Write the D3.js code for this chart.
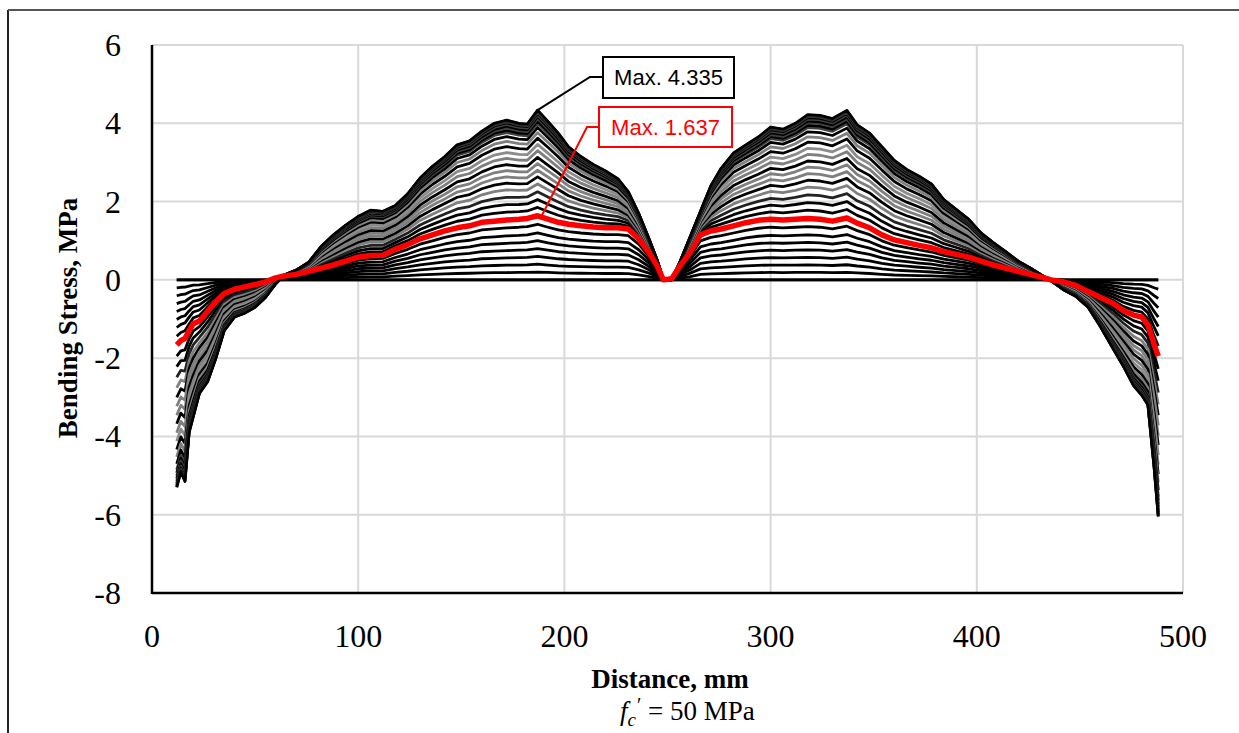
<!DOCTYPE html>
<html lang="en">
<head>
<meta charset="UTF-8">
<title>Bending stress - fc' = 50 MPa</title>
<script src="https://d3js.org/d3.v7.min.js"></script>
<style>
  body { margin: 0; background: #fff; }
  text { font-family: "Liberation Serif", "Times New Roman", serif; }
  .grid line { stroke: #d9d9d9; stroke-width: 2; }
  .tick-label { font-size: 32px; fill: #000; }
  .axis-title { font-size: 27px; font-weight: bold; fill: #000; }
  .note { font-family: "Liberation Sans", Arial, sans-serif; font-size: 22px; }
</style>
</head>
<body>
<script>
// distance along the slab, mm
var distance = [12, 14, 16, 18, 20, 23, 27, 31, 35, 40, 45, 50, 55, 60, 64, 70, 76, 82, 88, 94,
  100, 106, 112, 118, 124, 130, 136, 142, 148, 154, 160, 166, 172, 178, 182, 187, 192, 197, 202, 208,
  214, 220, 226, 231, 236, 241, 245, 248, 252, 256, 261, 266, 271, 276, 282, 288, 294, 300, 306, 312,
  318, 324, 330, 337, 342, 348, 354, 360, 366, 372, 378, 384, 390, 396, 402, 408, 414, 420, 426, 432,
  436, 442, 448, 454, 460, 466, 471, 476, 480, 483, 486, 488];

// last load step (Max. 4.335), MPa
var envelope = [-5.3, -4.9, -5.15, -3.9, -3.5, -2.9, -2.6, -2.0, -1.3, -0.95, -0.85, -0.7, -0.45, -0.1, 0.12, 0.25, 0.45, 0.85, 1.15, 1.4,
  1.62, 1.78, 1.75, 1.9, 2.2, 2.6, 2.9, 3.15, 3.45, 3.55, 3.8, 4.0, 4.08, 4.0, 3.98, 4.335, 4.05, 3.75, 3.4, 3.15,
  2.95, 2.78, 2.58, 2.25, 1.7, 1.05, 0.5, 0.0, 0.0, 0.45, 1.1, 1.75, 2.4, 2.85, 3.24, 3.45, 3.65, 3.9, 3.85, 4.0,
  4.22, 4.2, 4.12, 4.33, 3.96, 3.75, 3.4, 3.05, 2.82, 2.65, 2.45, 2.05, 1.8, 1.55, 1.2, 0.95, 0.72, 0.48, 0.3, 0.1,
  -0.02, -0.25, -0.42, -0.7, -1.2, -1.75, -2.2, -2.7, -2.95, -3.2, -4.8, -6.05];

// highlighted load step (Max. 1.637), MPa
var redStep = [-1.66, -1.55, -1.5, -1.3, -1.12, -1.05, -0.8, -0.55, -0.35, -0.24, -0.18, -0.12, -0.05, 0.05, 0.1, 0.14, 0.22, 0.3, 0.38, 0.48,
  0.58, 0.62, 0.63, 0.78, 0.9, 1.05, 1.15, 1.25, 1.33, 1.38, 1.47, 1.5, 1.53, 1.55, 1.57, 1.637, 1.55, 1.47, 1.42, 1.38,
  1.35, 1.33, 1.33, 1.3, 1.05, 0.7, 0.35, 0.0, 0.03, 0.35, 0.7, 1.15, 1.25, 1.3, 1.38, 1.46, 1.52, 1.55, 1.53, 1.55,
  1.57, 1.55, 1.5, 1.58, 1.45, 1.33, 1.15, 1.02, 0.95, 0.88, 0.82, 0.72, 0.65, 0.58, 0.48, 0.38, 0.3, 0.22, 0.14, 0.06,
  0.0, -0.05, -0.14, -0.3, -0.45, -0.6, -0.78, -0.9, -0.95, -1.15, -1.65, -1.95];

// peak stress of every load step, read at the left peak, MPa
var stepMax = [0, 0, 0.2, 0.4, 0.6, 0.8, 1.0, 1.2, 1.42, 1.85, 2.05, 2.25, 2.45, 2.63, 2.8, 2.97, 3.13, 3.3,
  3.46, 3.62, 3.76, 3.89, 4.0, 4.06, 4.12, 4.17, 4.22, 4.26, 4.29, 4.31, 4.325, 4.335];
var stepColor = ["#000", "#000", "#000", "#000", "#000", "#000", "#000", "#000", "#000", "#000", "#000", "#222",
  "#7f7f7f", "#000", "#7f7f7f", "#7f7f7f", "#000", "#7f7f7f", "#8c8c8c", "#000", "#7f7f7f", "#000",
  "#404040", "#000", "#404040", "#000", "#404040", "#000", "#404040", "#222", "#404040", "#000"];

var xTicks = [0, 100, 200, 300, 400, 500];
var yTicks = [-8, -6, -4, -2, 0, 2, 4, 6];

var W = 1239, H = 733;
var plotL = 152, plotR = 1183, plotT = 45, plotB = 593;

var svg = d3.select('body').append('svg')
  .attr('width', W).attr('height', H);

// outer frame (left and top edges)
svg.append('line').attr('x1', 8).attr('y1', 10).attr('x2', 8).attr('y2', H)
  .attr('stroke', '#222').attr('stroke-width', 2);
svg.append('line').attr('x1', 8).attr('y1', 10).attr('x2', W).attr('y2', 10)
  .attr('stroke', '#555').attr('stroke-width', 2);

var x = d3.scaleLinear().domain([0, 500]).range([plotL, plotR]);
var y = d3.scaleLinear().domain([-8, 6]).range([plotB, plotT]);

// grid
var grid = svg.append('g').attr('class', 'grid');
grid.selectAll('.gx').data(xTicks.slice(1)).enter().append('line')
  .attr('x1', function (d) { return x(d); }).attr('x2', function (d) { return x(d); })
  .attr('y1', plotT).attr('y2', plotB);
grid.selectAll('.gy').data(yTicks.slice(1)).enter().append('line')
  .attr('x1', plotL).attr('x2', plotR)
  .attr('y1', function (d) { return y(d); }).attr('y2', function (d) { return y(d); });

// axes lines
svg.append('line').attr('x1', plotL).attr('x2', plotL).attr('y1', plotT).attr('y2', plotB + 1)
  .attr('stroke', '#000').attr('stroke-width', 2.5);
svg.append('line').attr('x1', plotL).attr('x2', plotR).attr('y1', plotB).attr('y2', plotB)
  .attr('stroke', '#000').attr('stroke-width', 2.5);

// tick labels
svg.selectAll('.yl').data(yTicks).enter().append('text')
  .attr('class', 'tick-label')
  .attr('x', 121).attr('y', function (d) { return y(d) + 11; })
  .attr('text-anchor', 'end')
  .text(function (d) { return d; });
svg.selectAll('.xl').data(xTicks).enter().append('text')
  .attr('class', 'tick-label')
  .attr('x', function (d) { return x(d); }).attr('y', 647)
  .attr('text-anchor', 'middle')
  .text(function (d) { return d; });

// load-step curves
var line = d3.line()
  .x(function (d) { return x(d[0]); })
  .y(function (d) { return y(d[1]); });

var redMax = 1.637, envMax = 4.335;
function stepCurve(k) {
  return distance.map(function (xd, i) {
    var v;
    if (k <= redMax) v = redStep[i] * k / redMax;
    else {
      var t = (k - redMax) / (envMax - redMax);
      v = redStep[i] + t * (envelope[i] - redStep[i]);
    }
    return [xd, v];
  });
}

var curves = svg.append('g').attr('fill', 'none')
  .attr('stroke-linejoin', 'round').attr('stroke-linecap', 'butt');
curves.selectAll('path.step').data(stepMax).enter().append('path')
  .attr('class', 'step')
  .attr('d', function (d) { return line(stepCurve(d)); })
  .attr('stroke', function (d, i) { return stepColor[i]; })
  .attr('stroke-width', 2.8);

curves.append('path')
  .attr('d', line(distance.map(function (xd, i) { return [xd, redStep[i]]; })))
  .attr('stroke', '#ff0000').attr('stroke-width', 5.5);

// annotations
var peakX = 187;
svg.append('polyline')
  .attr('points', [[x(peakX), y(envMax)], [590, 77], [603, 77]].join(' '))
  .attr('fill', 'none').attr('stroke', '#000').attr('stroke-width', 2);
svg.append('rect').attr('x', 603).attr('y', 57).attr('width', 131).attr('height', 41)
  .attr('fill', '#fff').attr('stroke', '#000').attr('stroke-width', 2);
svg.append('text').attr('class', 'note').attr('x', 668.5).attr('y', 85)
  .attr('text-anchor', 'middle').attr('fill', '#000').text('Max. 4.335');

svg.append('polyline')
  .attr('points', [[x(peakX + 2), y(redMax)], [587, 127], [599, 127]].join(' '))
  .attr('fill', 'none').attr('stroke', '#ff0000').attr('stroke-width', 2);
svg.append('rect').attr('x', 599).attr('y', 107).attr('width', 133).attr('height', 40)
  .attr('fill', '#fff').attr('stroke', '#ff0000').attr('stroke-width', 2);
svg.append('text').attr('class', 'note').attr('x', 665.5).attr('y', 135)
  .attr('text-anchor', 'middle').attr('fill', '#ff0000').text('Max. 1.637');

// axis titles
svg.append('text').attr('class', 'axis-title')
  .attr('transform', 'translate(77,318) rotate(-90)')
  .attr('text-anchor', 'middle').text('Bending Stress, MPa');
svg.append('text').attr('class', 'axis-title')
  .attr('x', 670).attr('y', 688).attr('text-anchor', 'middle').text('Distance, mm');

var sub = svg.append('text').attr('x', 620).attr('y', 720).attr('text-anchor', 'start')
  .style('font-size', '27px');
sub.append('tspan').style('font-style', 'italic').text('f');
sub.append('tspan').style('font-style', 'italic').style('font-size', '19px').attr('dy', 6).text('c');
sub.append('tspan').attr('dy', -14).attr('dx', 1).style('font-size', '20px').text('\u2032');
sub.append('tspan').attr('dy', 8).text(' = 50 MPa');
</script>
</body>
</html>
